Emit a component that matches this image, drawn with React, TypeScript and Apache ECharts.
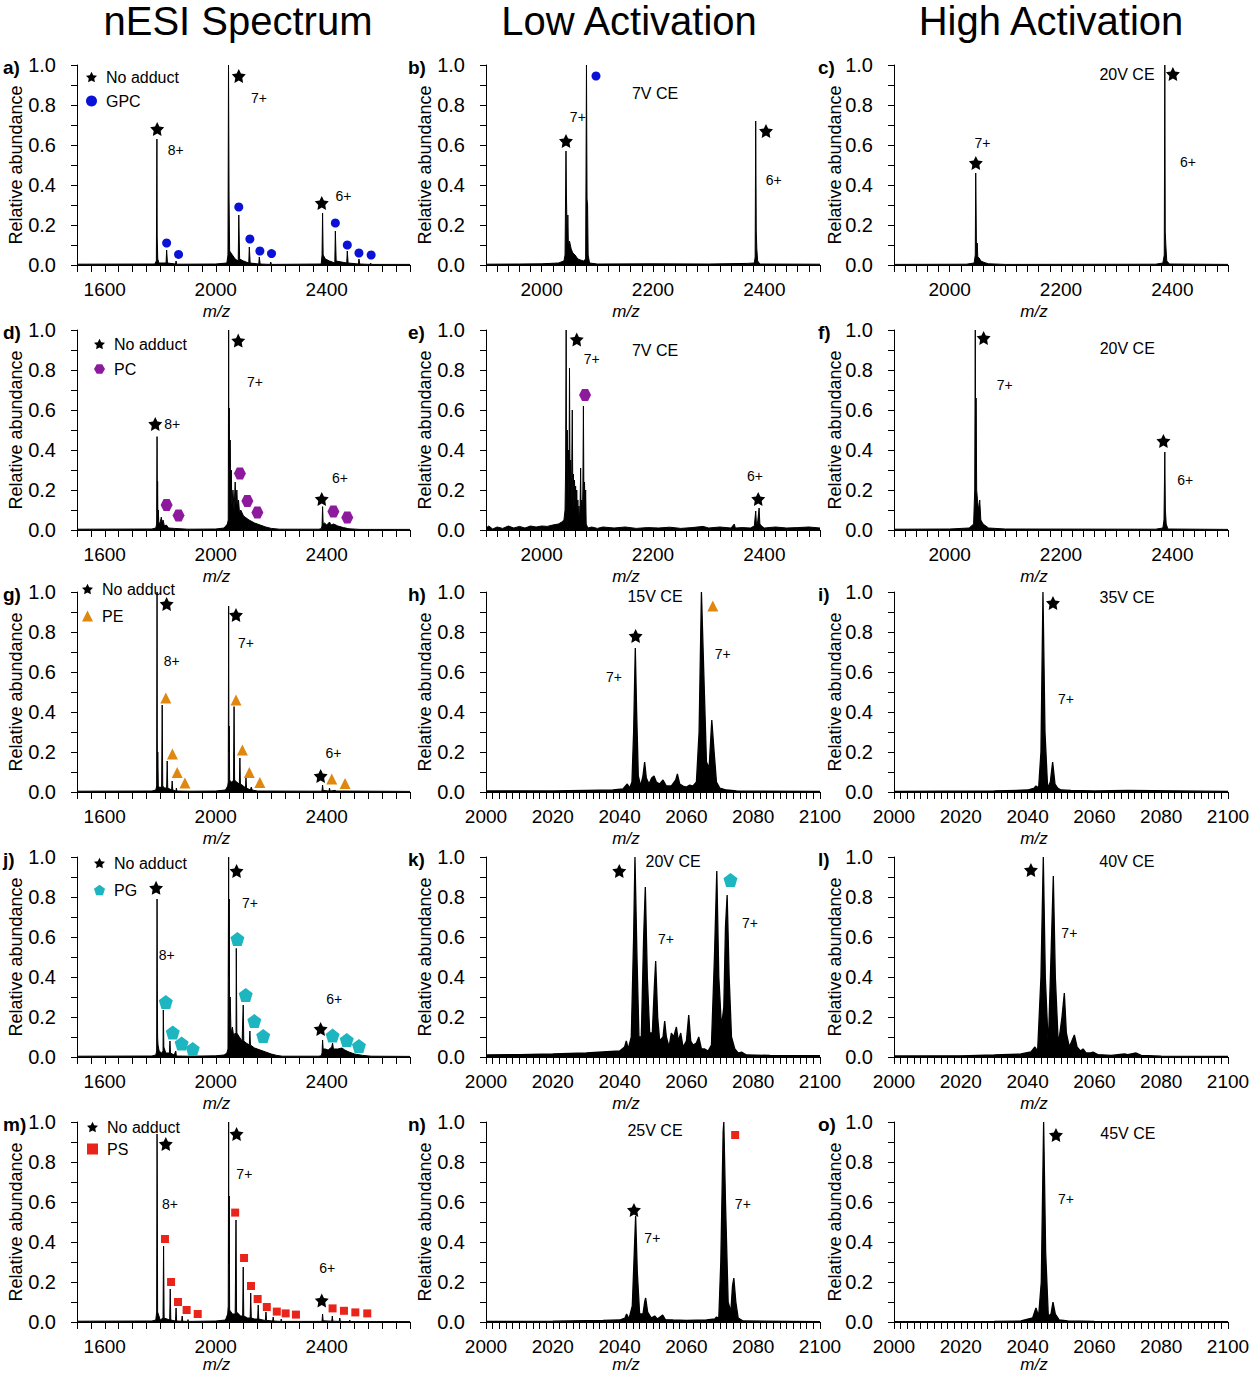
import React, { useEffect, useRef } from 'react';
import * as echarts from 'echarts';

const FONT = '"Liberation Sans", Arial, Helvetica, sans-serif';

// ---------- texts & tick labels ----------
const COLUMN_TITLES = ['nESI Spectrum', 'Low Activation', 'High Activation'];
const PANEL_LETTERS = ['a)', 'b)', 'c)', 'd)', 'e)', 'f)', 'g)', 'h)', 'i)', 'j)', 'k)', 'l)', 'm)', 'n)', 'o)'];
const Y_TICK_LABELS = [0, 0.2, 0.4, 0.6, 0.8, 1.0];
const X_LABELS_NESI = [1600, 2000, 2400];
const X_LABELS_WIDE = [2000, 2200, 2400];
const X_LABELS_ZOOM = [2000, 2020, 2040, 2060, 2080, 2100];

// ---------- spectra [m/z, relative abundance] ----------
const SPEC_A = [[1500,0.004],[1780,0.005],[1786,0.02],[1788,0.63],[1789,0.14],[1791,0.03],[1795,0.01],[1821,0.01],[1823,0.075],[1826,0.01],[1855,0.005],[1857,0.02],[1859,0.004],[2000,0.005],[2040,0.01],[2044,0.05],[2046,1.0],[2048,0.33],[2050,0.07],[2060,0.05],[2070,0.03],[2081,0.02],[2083,0.25],[2086,0.03],[2100,0.02],[2119,0.01],[2121,0.09],[2124,0.01],[2155,0.005],[2157,0.04],[2160,0.005],[2196,0.003],[2198,0.015],[2201,0.003],[2380,0.005],[2383,0.05],[2385,0.26],[2387,0.05],[2395,0.03],[2410,0.02],[2429,0.01],[2431,0.17],[2434,0.02],[2472,0.01],[2474,0.07],[2477,0.01],[2514,0.005],[2516,0.03],[2519,0.005],[2556,0.003],[2558,0.01],[2561,0.003],[2700,0.003]];
const SPEC_B = [[1900,0.004],[1960,0.005],[2000,0.006],[2030,0.01],[2040,0.02],[2042,0.05],[2043.7,0.57],[2044.5,0.35],[2046,0.1],[2047,0.25],[2048,0.1],[2050,0.12],[2053,0.08],[2056,0.06],[2060,0.05],[2065,0.03],[2070,0.025],[2075,0.02],[2079,0.03],[2080.5,1.0],[2081.5,0.33],[2082.5,0.3],[2083.5,0.05],[2086,0.01],[2100,0.005],[2200,0.006],[2300,0.005],[2370,0.008],[2382,0.01],[2383.5,0.04],[2384.5,0.72],[2385.5,0.17],[2386.5,0.08],[2388,0.02],[2392,0.005],[2500,0.004]];
const SPEC_C = [[1900,0.003],[2030,0.004],[2044,0.01],[2046,0.05],[2046.8,0.46],[2047.4,0.31],[2048.2,0.05],[2049.5,0.11],[2050.5,0.04],[2053,0.035],[2056,0.02],[2060,0.015],[2065,0.01],[2070,0.006],[2100,0.003],[2370,0.004],[2383,0.01],[2385.5,0.05],[2386.5,1.0],[2387.3,0.165],[2388.5,0.09],[2390,0.02],[2395,0.005],[2500,0.003]];
const SPEC_D = [[1500,0.004],[1770,0.005],[1784,0.01],[1787,0.03],[1788.5,0.467],[1789.5,0.1],[1790.5,0.243],[1791.5,0.05],[1793,0.1],[1795,0.03],[1800,0.04],[1804,0.065],[1807,0.03],[1810,0.05],[1815,0.02],[1822,0.025],[1830,0.01],[1850,0.008],[1900,0.004],[2000,0.005],[2030,0.01],[2042,0.03],[2045,0.05],[2046.5,1.0],[2047.5,0.3],[2048.5,0.61],[2050,0.15],[2052,0.45],[2054,0.15],[2056,0.3],[2058,0.12],[2062,0.2],[2066,0.1],[2070,0.24],[2073,0.12],[2076,0.2],[2079,0.1],[2082,0.15],[2086,0.08],[2090,0.1],[2100,0.07],[2120,0.05],[2140,0.035],[2160,0.025],[2180,0.015],[2200,0.008],[2230,0.004],[2370,0.004],[2380,0.006],[2383,0.02],[2385,0.117],[2387,0.03],[2392,0.035],[2400,0.025],[2410,0.04],[2415,0.025],[2425,0.03],[2440,0.02],[2460,0.012],[2480,0.006],[2520,0.003],[2700,0.003]];
const SPEC_E = [[1900,0.01],[1905,0.02],[1912,0.005],[1920,0.015],[1930,0.008],[1940,0.02],[1950,0.01],[1960,0.018],[1970,0.01],[1980,0.02],[1990,0.015],[2000,0.02],[2010,0.018],[2020,0.025],[2030,0.03],[2036,0.04],[2040,0.05],[2042,0.1],[2043,0.3],[2044,1.0],[2044.8,0.2],[2046,0.5],[2047,0.25],[2048,0.4],[2049,0.15],[2050,0.81],[2051,0.2],[2052,0.35],[2053,0.12],[2054,0.3],[2055,0.6],[2056,0.15],[2057,0.28],[2058,0.1],[2059,0.25],[2060,0.12],[2061,0.22],[2062,0.08],[2063,0.2],[2064,0.06],[2065,0.15],[2066,0.04],[2067,0.12],[2068,0.05],[2069,0.1],[2070,0.31],[2071,0.05],[2072,0.15],[2073,0.04],[2074,0.2],[2075,0.62],[2076,0.1],[2077,0.24],[2078,0.08],[2079,0.2],[2080,0.03],[2083,0.01],[2090,0.015],[2100,0.008],[2110,0.015],[2130,0.01],[2150,0.015],[2170,0.008],[2190,0.012],[2210,0.01],[2230,0.014],[2250,0.008],[2270,0.012],[2290,0.018],[2300,0.01],[2320,0.015],[2340,0.01],[2346,0.03],[2348,0.01],[2360,0.012],[2375,0.01],[2382,0.02],[2384.5,0.095],[2386,0.02],[2388,0.04],[2390.6,0.11],[2392,0.03],[2395,0.02],[2400,0.01],[2420,0.015],[2440,0.01],[2460,0.012],[2480,0.015],[2500,0.01]];
const SPEC_F = [[1900,0.004],[2000,0.005],[2035,0.01],[2043,0.03],[2045,0.2],[2046,1.0],[2046.8,0.3],[2047.5,0.66],[2048.5,0.2],[2050,0.15],[2052,0.1],[2054,0.15],[2056,0.05],[2060,0.03],[2070,0.01],[2100,0.005],[2370,0.004],[2383,0.01],[2385,0.05],[2386.5,0.39],[2387.5,0.1],[2389,0.03],[2392,0.005],[2500,0.003]];
const SPEC_G = [[1500,0.004],[1770,0.005],[1784,0.01],[1787,0.03],[1788.5,1.0],[1789.2,0.28],[1790,0.05],[1791,0.2],[1793,0.03],[1800,0.02],[1805,0.03],[1807,0.435],[1809,0.03],[1815,0.02],[1823,0.02],[1825,0.155],[1827,0.02],[1841,0.01],[1843,0.055],[1845,0.01],[1857,0.005],[1858,0.02],[1860,0.005],[1900,0.004],[2000,0.005],[2035,0.01],[2043,0.03],[2045,0.05],[2046.5,0.93],[2047.5,0.2],[2048.5,0.33],[2050,0.06],[2055,0.05],[2060,0.05],[2064,0.06],[2066,0.427],[2068,0.06],[2075,0.05],[2085,0.04],[2087,0.17],[2089,0.04],[2100,0.03],[2107,0.02],[2109,0.07],[2111,0.02],[2125,0.01],[2128,0.025],[2131,0.01],[2150,0.005],[2380,0.004],[2383,0.008],[2385,0.035],[2387,0.008],[2408,0.005],[2410,0.02],[2412,0.005],[2430,0.008],[2435,0.005],[2700,0.003]];
const SPEC_H = [[2000,0.005],[2010,0.006],[2020,0.005],[2030,0.008],[2038,0.01],[2041,0.015],[2042.3,0.04],[2043,0.02],[2043.7,0.05],[2044.2,0.3],[2044.7,0.72],[2045.1,0.4],[2045.6,0.08],[2046.3,0.03],[2047,0.08],[2047.5,0.15],[2048,0.07],[2048.8,0.04],[2049.6,0.07],[2050.3,0.08],[2051,0.05],[2052,0.04],[2053,0.06],[2054,0.03],[2055.5,0.03],[2056.8,0.06],[2057.3,0.09],[2058,0.04],[2059,0.03],[2060,0.025],[2061,0.035],[2062,0.03],[2063,0.05],[2063.8,0.3],[2064.5,1.0],[2065.2,0.6],[2066,0.15],[2066.8,0.12],[2067.6,0.36],[2068.3,0.2],[2069,0.05],[2070,0.02],[2072,0.01],[2075,0.005],[2100,0.003]];
const SPEC_I = [[2000,0.003],[2030,0.005],[2040,0.01],[2042,0.02],[2042.5,0.03],[2043.3,0.02],[2044,0.2],[2044.6,1.0],[2045.2,0.3],[2046,0.02],[2046.8,0.05],[2047.5,0.15],[2048.2,0.04],[2049,0.02],[2050,0.01],[2053,0.008],[2060,0.005],[2070,0.008],[2100,0.003]];
const SPEC_J = [[1500,0.004],[1770,0.005],[1784,0.01],[1787,0.03],[1788.5,0.79],[1789.5,0.33],[1790.5,0.1],[1792,0.06],[1796,0.03],[1805,0.02],[1810,0.03],[1811,0.235],[1813,0.05],[1820,0.02],[1833,0.02],[1835,0.08],[1837,0.02],[1850,0.01],[1856,0.03],[1858,0.005],[1900,0.004],[2000,0.006],[2030,0.01],[2040,0.02],[2044,0.04],[2046.5,1.0],[2047.5,0.4],[2048.5,0.79],[2050,0.2],[2052,0.3],[2055,0.12],[2060,0.15],[2065,0.1],[2070,0.12],[2073,0.1],[2074,0.543],[2076,0.12],[2085,0.1],[2095,0.08],[2099,0.26],[2101,0.08],[2110,0.07],[2121,0.06],[2123,0.13],[2125,0.06],[2140,0.045],[2160,0.035],[2180,0.025],[2200,0.015],[2220,0.008],[2240,0.004],[2370,0.004],[2380,0.006],[2383,0.02],[2385,0.085],[2387,0.04],[2395,0.04],[2405,0.035],[2418,0.05],[2421,0.07],[2424,0.04],[2440,0.04],[2455,0.045],[2465,0.035],[2480,0.025],[2500,0.015],[2530,0.008],[2560,0.004],[2700,0.003]];
const SPEC_K = [[2000,0.01],[2010,0.012],[2020,0.015],[2030,0.02],[2035,0.025],[2040,0.03],[2041.5,0.05],[2042,0.08],[2042.6,0.04],[2043.5,0.1],[2044.2,0.6],[2044.6,1.0],[2045.2,0.5],[2045.8,0.1],[2046.5,0.1],[2047.2,0.6],[2047.7,0.85],[2048.3,0.4],[2049,0.12],[2049.8,0.12],[2050.4,0.35],[2050.8,0.48],[2051.4,0.2],[2052,0.08],[2053,0.1],[2053.5,0.18],[2054,0.1],[2054.8,0.05],[2055.5,0.12],[2056.2,0.1],[2057,0.15],[2057.6,0.08],[2058.3,0.12],[2059,0.05],[2060,0.08],[2060.7,0.21],[2061.3,0.08],[2062,0.06],[2063,0.07],[2063.7,0.1],[2064.5,0.04],[2065.5,0.04],[2066.5,0.03],[2067.5,0.06],[2068.4,0.5],[2069.1,0.93],[2069.7,0.4],[2070.5,0.15],[2071.2,0.25],[2071.7,0.65],[2072.2,0.81],[2072.8,0.4],[2073.5,0.1],[2074.5,0.04],[2075.5,0.02],[2076.5,0.025],[2078,0.01],[2085,0.008],[2100,0.007]];
const SPEC_L = [[2000,0.005],[2020,0.006],[2030,0.01],[2038,0.015],[2041,0.025],[2042.2,0.05],[2043,0.03],[2044,0.4],[2044.7,1.0],[2045.3,0.4],[2046.2,0.05],[2047,0.5],[2047.7,0.905],[2048.3,0.4],[2049.2,0.06],[2050.3,0.2],[2051,0.32],[2051.6,0.12],[2052.5,0.05],[2053.5,0.09],[2054,0.11],[2054.8,0.05],[2055.8,0.03],[2056.6,0.04],[2057.5,0.02],[2058.6,0.02],[2059.6,0.025],[2061,0.012],[2065,0.008],[2069,0.015],[2070,0.012],[2072.5,0.02],[2074,0.008],[2080,0.004],[2100,0.003]];
const SPEC_M = [[1500,0.004],[1770,0.005],[1784,0.01],[1787,0.05],[1788.5,0.94],[1789.3,0.685],[1790.5,0.05],[1800,0.01],[1810,0.02],[1812,0.38],[1814,0.02],[1834,0.01],[1836,0.165],[1838,0.01],[1855,0.005],[1857,0.07],[1859,0.005],[1877,0.004],[1879,0.03],[1881,0.004],[1898,0.003],[1900,0.012],[1902,0.003],[2000,0.005],[2035,0.01],[2043,0.04],[2045,0.08],[2046.5,1.0],[2047.5,0.29],[2048.5,0.63],[2050,0.06],[2060,0.04],[2070,0.04],[2072,0.04],[2073,0.51],[2075,0.05],[2090,0.03],[2097,0.03],[2099,0.275],[2101,0.03],[2115,0.02],[2124,0.02],[2126,0.145],[2128,0.02],[2140,0.015],[2151,0.015],[2153,0.085],[2155,0.015],[2170,0.01],[2179,0.008],[2181,0.05],[2183,0.008],[2205,0.005],[2207,0.025],[2209,0.005],[2234,0.003],[2236,0.015],[2238,0.003],[2380,0.003],[2383,0.006],[2385,0.04],[2387,0.006],[2418,0.004],[2420,0.03],[2422,0.004],[2445,0.003],[2447,0.02],[2449,0.003],[2481,0.002],[2483,0.01],[2485,0.002],[2700,0.002]];
const SPEC_N = [[2000,0.003],[2020,0.004],[2035,0.008],[2040,0.01],[2041.6,0.02],[2042.1,0.04],[2042.8,0.015],[2043.8,0.08],[2044.4,0.35],[2044.8,0.53],[2045.3,0.25],[2046,0.04],[2047,0.04],[2047.5,0.1],[2047.8,0.12],[2048.4,0.05],[2049.5,0.02],[2050.5,0.03],[2051.3,0.015],[2052.9,0.035],[2053.7,0.012],[2056,0.01],[2060,0.008],[2066,0.01],[2068.5,0.015],[2069,0.025],[2069.7,0.02],[2070.3,0.3],[2071,0.95],[2071.2,1.0],[2071.7,0.6],[2072.5,0.1],[2073.3,0.05],[2073.8,0.18],[2074.2,0.22],[2074.8,0.1],[2075.5,0.02],[2077,0.005],[2100,0.002]];
const SPEC_O = [[2000,0.002],[2030,0.003],[2038,0.005],[2041.5,0.02],[2042.5,0.07],[2043.3,0.03],[2044.1,0.2],[2044.8,1.0],[2045.4,0.35],[2046.2,0.03],[2047,0.04],[2047.6,0.1],[2048.3,0.04],[2049.5,0.01],[2052,0.005],[2060,0.003],[2100,0.002]];

// ---------- "No adduct" star markers ----------
const STARS_A = [[1789,0.68],[2083,0.945],[2382,0.31]];
const STARS_B = [[2043.7,0.62],[2403,0.67]];
const STARS_C = [[2047,0.51],[2401,0.955]];
const STARS_D = [[1782,0.53],[2081,0.947],[2382,0.155]];
const STARS_E = [[2063,0.953],[2389,0.155]];
const STARS_F = [[2061,0.96],[2384,0.445]];
const STARS_G = [[1823,0.94],[2073,0.885],[2378,0.08]];
const STARS_H = [[2044.8,0.78]];
const STARS_I = [[2047.6,0.945]];
const STARS_J = [[1785,0.846],[2075,0.93],[2378,0.14]];
const STARS_K = [[2039.9,0.93]];
const STARS_L = [[2041,0.935]];
const STARS_M = [[1820,0.89],[2075,0.94],[2382,0.108]];
const STARS_N = [[2044.3,0.56]];
const STARS_O = [[2048.5,0.935]];

// ---------- lipid adduct markers ----------
const GPC_A = [[1823,0.11],[1866,0.053],[2083,0.29],[2123,0.13],[2159,0.07],[2201,0.057],[2431,0.21],[2474,0.10],[2516,0.06],[2560,0.05]];
const GPC_B = [[2097.6,0.945]];
const PC_D = [[1823,0.125],[1866,0.073],[2087,0.283],[2114,0.145],[2150,0.087],[2424,0.092],[2474,0.062]];
const PC_E = [[2078,0.675]];
const PE_G = [[1820,0.47],[1844,0.19],[1861,0.097],[1889,0.045],[2073,0.46],[2096,0.21],[2121,0.097],[2159,0.048],[2418,0.065],[2466,0.043]];
const PE_H = [[2067.9,0.93]];
const PG_J = [[1820,0.275],[1845,0.123],[1877,0.068],[1917,0.04],[2078,0.59],[2108,0.31],[2139,0.18],[2171,0.105],[2421,0.107],[2472,0.085],[2516,0.055]];
const PG_K = [[2073.2,0.885]];
const PS_M = [[1817,0.415],[1839,0.2],[1864,0.1],[1895,0.06],[1935,0.04],[2070,0.547],[2102,0.32],[2127,0.18],[2151,0.115],[2184,0.075],[2220,0.052],[2252,0.043],[2289,0.037],[2421,0.068],[2462,0.056],[2503,0.048],[2546,0.043]];
const PS_N = [[2074.6,0.935]];

// ---------- charge-state annotations [m/z, y, text] ----------
const CHARGE_A = [[1856,0.575,'8+'],[2156,0.835,'7+'],[2460,0.347,'6+']];
const CHARGE_B = [[2065,0.74,'7+'],[2417,0.425,'6+']];
const CHARGE_C = [[2059,0.61,'7+'],[2428,0.517,'6+']];
const CHARGE_D = [[1843,0.53,'8+'],[2141,0.74,'7+'],[2448,0.26,'6+']];
const CHARGE_E = [[2090,0.853,'7+'],[2383,0.27,'6+']];
const CHARGE_F = [[2099,0.725,'7+'],[2423,0.25,'6+']];
const CHARGE_G = [[1841,0.655,'8+'],[2109,0.743,'7+'],[2424,0.197,'6+']];
const CHARGE_H = [[2038.3,0.577,'7+'],[2070.9,0.689,'7+']];
const CHARGE_I = [[2051.5,0.465,'7+']];
const CHARGE_J = [[1823,0.51,'8+'],[2123,0.768,'7+'],[2427,0.29,'6+']];
const CHARGE_K = [[2053.9,0.59,'7+'],[2079,0.67,'7+']];
const CHARGE_L = [[2052.5,0.62,'7+']];
const CHARGE_M = [[1835,0.59,'8+'],[2103,0.74,'7+'],[2402,0.27,'6+']];
const CHARGE_N = [[2049.8,0.42,'7+'],[2076.9,0.59,'7+']];
const CHARGE_O = [[2051.5,0.615,'7+']];

// ---------- collision energy labels [m/z, y, text] ----------
const CE_B = [[2203.6,0.858,'7V CE']];
const CE_C = [[2318.6,0.955,'20V CE']];
const CE_E = [[2203.6,0.9,'7V CE']];
const CE_F = [[2319,0.91,'20V CE']];
const CE_H = [[2050.6,0.977,'15V CE']];
const CE_I = [[2069.8,0.975,'35V CE']];
const CE_K = [[2056,0.977,'20V CE']];
const CE_L = [[2069.7,0.977,'40V CE']];
const CE_N = [[2050.6,0.96,'25V CE']];
const CE_O = [[2070,0.945,'45V CE']];

// ---------- styles & layout ----------
const STAR = 'path://M0,-10L2.94,-4.05L9.51,-3.09L4.76,1.55L5.88,8.09L0,5L-5.88,8.09L-4.76,1.55L-9.51,-3.09L-2.94,-4.05Z';
const HEX = 'path://M-1,0L-0.5,-0.866L0.5,-0.866L1,0L0.5,0.866L-0.5,0.866Z';
const PENT = 'path://M0,-1L0.951,-0.309L0.588,0.809L-0.588,0.809L-0.951,-0.309Z';
const ADDUCT_STYLE: Record<string, { symbol: string; size: number; color: string }> = {
  GPC: { symbol: 'circle', size: 9, color: '#0a12d8' },
  PC: { symbol: HEX, size: 12, color: '#8d1a9d' },
  PE: { symbol: 'triangle', size: 11, color: '#e0870f' },
  PG: { symbol: PENT, size: 14, color: '#1db5bf' },
  PS: { symbol: 'rect', size: 8, color: '#e8241b' },
};
const AXIS_KIND: Record<string, { min: number; max: number; interval: number; labels: number[] }> = {
  nesi: { min: 1500, max: 2700, interval: 50, labels: X_LABELS_NESI },
  wide: { min: 1900, max: 2500, interval: 20, labels: X_LABELS_WIDE },
  zoom: { min: 2000, max: 2100, interval: 2, labels: X_LABELS_ZOOM },
};
const COL_LEFT = [77, 486, 894];
const COL_WIDTH = [333, 334, 334];
const ROW_TOP = [65, 330, 592, 857, 1122];
const MZ_OFFSET = [46, 46, 46, 46, 42.5];
const PLOT_H = 200;
const LEGEND_POS = [
  { left: 86, top: 69, gap: 8 },
  { left: 94, top: 336, gap: 9 },
  { left: 82, top: 581, gap: 11 },
  { left: 94, top: 855, gap: 11 },
  { left: 87, top: 1119, gap: 6 },
];

type Panel = { col: number; row: number; axis: string; spec: number[][]; stars: number[][]; adduct?: string; adductPts?: number[][]; charges: any[]; ce?: any[] };

const PANELS: Panel[] = [
  { col: 0, row: 0, axis: 'nesi', spec: SPEC_A, stars: STARS_A, adduct: 'GPC', adductPts: GPC_A, charges: CHARGE_A },
  { col: 1, row: 0, axis: 'wide', spec: SPEC_B, stars: STARS_B, adduct: 'GPC', adductPts: GPC_B, charges: CHARGE_B, ce: CE_B },
  { col: 2, row: 0, axis: 'wide', spec: SPEC_C, stars: STARS_C, charges: CHARGE_C, ce: CE_C },
  { col: 0, row: 1, axis: 'nesi', spec: SPEC_D, stars: STARS_D, adduct: 'PC', adductPts: PC_D, charges: CHARGE_D },
  { col: 1, row: 1, axis: 'wide', spec: SPEC_E, stars: STARS_E, adduct: 'PC', adductPts: PC_E, charges: CHARGE_E, ce: CE_E },
  { col: 2, row: 1, axis: 'wide', spec: SPEC_F, stars: STARS_F, charges: CHARGE_F, ce: CE_F },
  { col: 0, row: 2, axis: 'nesi', spec: SPEC_G, stars: STARS_G, adduct: 'PE', adductPts: PE_G, charges: CHARGE_G },
  { col: 1, row: 2, axis: 'zoom', spec: SPEC_H, stars: STARS_H, adduct: 'PE', adductPts: PE_H, charges: CHARGE_H, ce: CE_H },
  { col: 2, row: 2, axis: 'zoom', spec: SPEC_I, stars: STARS_I, charges: CHARGE_I, ce: CE_I },
  { col: 0, row: 3, axis: 'nesi', spec: SPEC_J, stars: STARS_J, adduct: 'PG', adductPts: PG_J, charges: CHARGE_J },
  { col: 1, row: 3, axis: 'zoom', spec: SPEC_K, stars: STARS_K, adduct: 'PG', adductPts: PG_K, charges: CHARGE_K, ce: CE_K },
  { col: 2, row: 3, axis: 'zoom', spec: SPEC_L, stars: STARS_L, charges: CHARGE_L, ce: CE_L },
  { col: 0, row: 4, axis: 'nesi', spec: SPEC_M, stars: STARS_M, adduct: 'PS', adductPts: PS_M, charges: CHARGE_M },
  { col: 1, row: 4, axis: 'zoom', spec: SPEC_N, stars: STARS_N, adduct: 'PS', adductPts: PS_N, charges: CHARGE_N, ce: CE_N },
  { col: 2, row: 4, axis: 'zoom', spec: SPEC_O, stars: STARS_O, charges: CHARGE_O, ce: CE_O },
];

function buildOption() {
  const grid: any[] = [];
  const xAxis: any[] = [];
  const yAxis: any[] = [];
  const series: any[] = [];
  const legend: any[] = [];
  const graphic: any[] = [];

  PANELS.forEach((p, i) => {
    const kind = AXIS_KIND[p.axis];
    grid.push({ left: COL_LEFT[p.col], top: ROW_TOP[p.row], width: COL_WIDTH[p.col], height: PLOT_H, containLabel: false, outerBoundsMode: 'none' });
    xAxis.push({
      gridIndex: i, type: 'value', min: kind.min, max: kind.max, interval: kind.interval,
      axisLine: { show: true, onZero: false, lineStyle: { color: '#000', width: 1 } },
      axisTick: { show: true, inside: false, length: 7, lineStyle: { color: '#000', width: 1 } },
      axisLabel: {
        show: true, color: '#000', fontSize: 19, fontFamily: FONT, margin: 15, hideOverlap: false,
        formatter: (v: number) => (kind.labels.some((l) => Math.abs(l - v) < 1e-6) ? String(Math.round(v)) : ''),
      },
      splitLine: { show: false },
    });
    yAxis.push({
      gridIndex: i, type: 'value', min: 0, max: 1, interval: 0.1,
      axisLine: { show: true, onZero: false, lineStyle: { color: '#000', width: 1 } },
      axisTick: { show: true, inside: false, length: 6, lineStyle: { color: '#000', width: 1 } },
      axisLabel: {
        show: true, color: '#000', fontSize: 20, fontFamily: FONT, margin: 21, hideOverlap: false,
        formatter: (v: number) => (Y_TICK_LABELS.some((l) => Math.abs(l - v) < 1e-6) ? v.toFixed(1) : ''),
      },
      splitLine: { show: false },
    });

    series.push({
      type: 'line', name: 'spectrum ' + PANEL_LETTERS[i], xAxisIndex: i, yAxisIndex: i, data: p.spec,
      symbol: 'none', showSymbol: false, silent: true, z: 2,
      lineStyle: { color: '#000', width: p.axis === 'zoom' ? 1.3 : 1 },
      areaStyle: { color: '#000', opacity: 1 },
    });
    series.push({
      type: 'scatter', name: 'No adduct', xAxisIndex: i, yAxisIndex: i, data: p.stars,
      symbol: STAR, symbolSize: 14, itemStyle: { color: '#000', opacity: 1 }, z: 5, silent: true,
    });
    if (p.adduct && p.adductPts) {
      const st = ADDUCT_STYLE[p.adduct];
      series.push({
        type: 'scatter', name: p.adduct, xAxisIndex: i, yAxisIndex: i, data: p.adductPts,
        symbol: st.symbol, symbolSize: st.size, itemStyle: { color: st.color, opacity: 1 }, z: 5, silent: true,
      });
    }
    const texts = [
      ...p.charges.map((c) => ({ value: [c[0], c[1]], name: c[2], label: { fontSize: 14 } })),
      ...(p.ce || []).map((c) => ({ value: [c[0], c[1]], name: c[2], label: { fontSize: 16 } })),
    ];
    series.push({
      type: 'scatter', name: 'labels ' + PANEL_LETTERS[i], xAxisIndex: i, yAxisIndex: i, data: texts,
      symbol: 'circle', symbolSize: 1, itemStyle: { color: 'rgba(0,0,0,0)', opacity: 1 }, z: 6, silent: true,
      label: { show: true, position: 'inside', formatter: '{b}', color: '#000', fontFamily: FONT, align: 'center', verticalAlign: 'middle' },
    });

    if (p.col === 0 && p.adduct) {
      const lp = LEGEND_POS[p.row];
      const st = ADDUCT_STYLE[p.adduct];
      legend.push({
        orient: 'vertical', left: lp.left, top: lp.top, itemGap: lp.gap, itemWidth: 11, itemHeight: 11,
        selectedMode: false, padding: 0,
        textStyle: { fontSize: 16, color: '#000', fontFamily: FONT, padding: [0, 0, 0, 4] },
        data: [
          { name: 'No adduct', icon: STAR },
          { name: p.adduct, icon: st.symbol },
        ],
      });
    }

    // panel letter
    graphic.push({
      type: 'text', x: [3, 408, 818][p.col], y: ROW_TOP[p.row] + 2,
      style: { text: PANEL_LETTERS[i], fill: '#000', fontSize: 19, fontWeight: 'bold', fontFamily: FONT, align: 'left', verticalAlign: 'middle' },
    });
    // y axis name
    graphic.push({
      type: 'text', x: [16, 425, 835][p.col], y: ROW_TOP[p.row] + PLOT_H / 2, rotation: Math.PI / 2,
      style: { text: 'Relative abundance', fill: '#000', fontSize: 18, fontFamily: FONT, align: 'center', verticalAlign: 'middle' },
    });
    // x axis name
    graphic.push({
      type: 'text', x: COL_LEFT[p.col] + COL_WIDTH[p.col] / 2 - 27, y: ROW_TOP[p.row] + PLOT_H + MZ_OFFSET[p.row],
      style: { text: 'm/z', fill: '#000', fontSize: 17, fontStyle: 'italic', fontFamily: FONT, align: 'center', verticalAlign: 'middle' },
    });
  });

  COLUMN_TITLES.forEach((t, c) => {
    graphic.push({
      type: 'text', x: [238, 629, 1051][c], y: 21,
      style: { text: t, fill: '#000', fontSize: 40, fontFamily: FONT, align: 'center', verticalAlign: 'middle' },
    });
  });

  return { animation: false, backgroundColor: '#fff', grid, xAxis, yAxis, series, legend, graphic };
}

export default function App() {
  const ref = useRef<HTMLDivElement>(null);
  useEffect(() => {
    const chart = echarts.init(ref.current as HTMLDivElement, null, { renderer: 'svg' });
    chart.setOption(buildOption() as any);
    return () => chart.dispose();
  }, []);
  return <div ref={ref} style={{ position: 'absolute', left: 0, top: 0, width: 1251, height: 1373, background: '#fff' }} />;
}
